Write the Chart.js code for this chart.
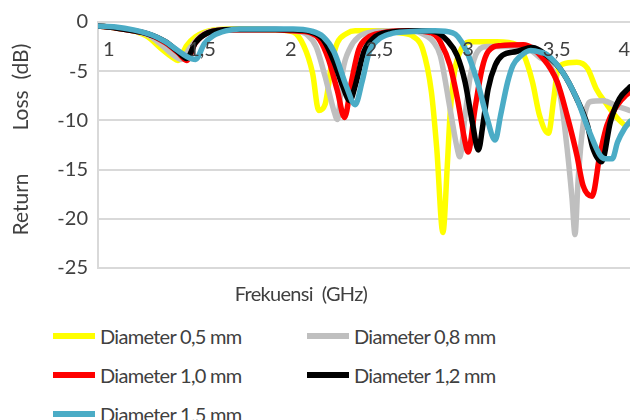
<!DOCTYPE html>
<html>
<head>
<meta charset="utf-8">
<script src="https://cdn.jsdelivr.net/npm/chart.js@4.4.1/dist/chart.umd.min.js"></script>
<style>
  body { margin: 0; background: #fff; font-family: Lato, sans-serif; color: #404040; }
  #wadah { position: relative; width: 632px; height: 420px; overflow: hidden; }
  #kotakGrafik { position: absolute; left: 0; top: 0; width: 632px; height: 290px; }
  #judulX { position: absolute; left: 0; width: 602px; top: 280px; text-align: center;
            font-size: 20px; line-height: 26px; white-space: pre; letter-spacing: -0.7px; }
  #legenda { position: absolute; left: 53px; top: 316px; display: grid;
             grid-template-columns: 254px 254px; grid-auto-rows: 39px; font-size: 20px;
             letter-spacing: -0.7px; }
  .item { display: flex; align-items: center; white-space: nowrap; }
  .garis { width: 42px; height: 6px; margin-right: 5px; }
</style>
</head>
<body>
<div id="wadah">
  <div id="kotakGrafik"><canvas id="grafik"></canvas></div>
  <div id="judulX">Frekuensi  (GHz)</div>
  <div id="legenda"></div>
</div>
<script>
// nilai: frekuensi (GHz) dan return loss (dB) per diameter
var frek05 = [1.00, 1.10, 1.20, 1.28, 1.35, 1.42, 1.45, 1.50, 1.55, 1.65, 1.80, 2.00, 2.10, 2.16, 2.21, 2.245, 2.28, 2.32, 2.35, 2.40, 2.45, 2.60, 2.70, 2.78, 2.83, 2.88, 2.91, 2.945, 2.97, 2.985, 3.01, 3.05, 3.11, 3.25, 3.36, 3.40, 3.45, 3.49, 3.54, 3.57, 3.59, 3.62, 3.70, 3.76, 3.81, 3.87, 3.93, 3.98, 4.00];
var rl05 = [-0.4, -0.6, -0.9, -1.5, -2.6, -3.6, -3.9, -2.4, -1.5, -0.8, -0.7, -0.8, -1.0, -2.4, -5.2, -9.0, -8.4, -4.0, -2.1, -1.2, -0.9, -0.9, -1.1, -1.5, -2.7, -7.1, -12.8, -21.4, -14.5, -9.5, -5.1, -2.7, -2.0, -2.0, -2.3, -3.3, -6.1, -9.5, -11.3, -7.8, -5.1, -4.3, -4.1, -4.7, -6.8, -8.4, -9.8, -10.5, -10.1];

var frek08 = [1.00, 1.10, 1.20, 1.28, 1.35, 1.42, 1.47, 1.52, 1.58, 1.70, 1.80, 2.00, 2.10, 2.18, 2.23, 2.28, 2.33, 2.35, 2.38, 2.42, 2.47, 2.55, 2.70, 2.80, 2.85, 2.89, 2.93, 2.985, 3.025, 3.04, 3.07, 3.10, 3.14, 3.20, 3.30, 3.40, 3.45, 3.49, 3.55, 3.61, 3.645, 3.673, 3.69, 3.707, 3.735, 3.775, 3.85, 3.92, 4.00];
var rl08 = [-0.4, -0.6, -0.9, -1.3, -2.2, -3.3, -3.8, -2.6, -1.4, -0.8, -0.8, -0.8, -0.9, -1.3, -2.5, -5.5, -9.0, -9.9, -5.0, -2.7, -1.5, -1.0, -0.9, -1.0, -1.4, -2.0, -3.4, -8.8, -12.8, -13.7, -9.5, -5.4, -3.0, -2.5, -2.5, -2.6, -3.0, -3.6, -4.4, -7.8, -12.8, -17.9, -21.6, -16.2, -10.5, -8.1, -8.0, -8.5, -9.0];

var frek10 = [1.00, 1.10, 1.20, 1.28, 1.38, 1.45, 1.50, 1.55, 1.62, 1.75, 2.00, 2.10, 2.20, 2.25, 2.30, 2.35, 2.39, 2.43, 2.47, 2.52, 2.60, 2.75, 2.85, 2.90, 2.93, 2.985, 3.03, 3.07, 3.087, 3.126, 3.166, 3.20, 3.27, 3.40, 3.51, 3.59, 3.645, 3.70, 3.735, 3.786, 3.83, 3.87, 3.93, 3.98, 4.00];
var rl10 = [-0.4, -0.6, -0.9, -1.2, -2.1, -3.1, -3.9, -2.1, -1.1, -0.8, -0.8, -0.9, -1.1, -1.8, -3.8, -7.0, -9.7, -6.0, -2.8, -1.6, -1.1, -0.9, -1.0, -1.3, -2.0, -4.4, -8.1, -12.2, -13.2, -8.8, -4.7, -3.0, -2.4, -2.3, -3.7, -6.1, -9.5, -13.5, -16.6, -17.7, -13.5, -10.5, -8.4, -7.4, -7.1];

var frek12 = [1.00, 1.10, 1.20, 1.28, 1.38, 1.45, 1.50, 1.55, 1.62, 1.75, 2.00, 2.10, 2.20, 2.27, 2.33, 2.38, 2.42, 2.45, 2.50, 2.55, 2.62, 2.80, 2.90, 2.97, 3.025, 3.07, 3.11, 3.145, 3.17, 3.20, 3.24, 3.28, 3.36, 3.45, 3.53, 3.62, 3.70, 3.76, 3.79, 3.84, 3.89, 3.94, 4.00];
var rl12 = [-0.4, -0.6, -0.9, -1.2, -2.0, -3.0, -3.7, -2.1, -1.1, -0.75, -0.75, -0.8, -1.0, -1.8, -4.0, -6.5, -8.0, -6.5, -3.0, -1.7, -1.1, -0.9, -1.0, -1.9, -3.4, -6.1, -10.1, -13.0, -10.5, -6.8, -4.4, -3.4, -3.0, -2.6, -3.4, -5.1, -7.8, -10.5, -12.8, -14.2, -10.1, -7.8, -6.6];

var frek15 = [1.00, 1.10, 1.20, 1.30, 1.38, 1.45, 1.50, 1.55, 1.60, 1.65, 1.72, 1.80, 2.00, 2.10, 2.20, 2.27, 2.33, 2.40, 2.45, 2.49, 2.53, 2.58, 2.65, 2.75, 2.90, 3.00, 3.03, 3.08, 3.14, 3.19, 3.24, 3.27, 3.31, 3.34, 3.38, 3.44, 3.50, 3.53, 3.62, 3.70, 3.77, 3.83, 3.86, 3.90, 3.93, 3.97, 4.00];
var rl15 = [-0.4, -0.5, -0.8, -1.3, -2.0, -2.9, -3.5, -3.8, -2.2, -1.4, -0.9, -0.7, -0.7, -0.7, -0.9, -1.5, -3.0, -6.5, -8.4, -6.0, -3.0, -1.8, -1.2, -1.0, -0.9, -1.1, -1.5, -3.0, -6.1, -9.5, -12.0, -9.5, -6.1, -4.4, -3.5, -2.9, -3.1, -3.3, -5.1, -7.8, -11.1, -13.5, -13.9, -13.9, -12.2, -10.8, -10.1];

var namaSeri = ["Diameter 0,5 mm", "Diameter 0,8 mm", "Diameter 1,0 mm", "Diameter 1,2 mm", "Diameter 1,5 mm"];
var warnaSeri = ["#FFFF00", "#BFBFBF", "#FF0000", "#000000", "#4BACC6"];
var tickY = [0, -5, -10, -15, -20, -25];
var tickX = [1, 1.5, 2, 2.5, 3, 3.5, 4];

function gabung(fs, vs) {
    return fs.map(function (f, i) { return {x: f, y: vs[i]}; });
}

var semuaFrek = [frek05, frek08, frek10, frek12, frek15];
var semuaRl = [rl05, rl08, rl10, rl12, rl15];

var datasets = namaSeri.map(function (nama, i) {
    return {
        label: nama,
        data: gabung(semuaFrek[i], semuaRl[i]),
        borderColor: warnaSeri[i],
        backgroundColor: warnaSeri[i],
        // seri terakhir (1,5 mm) digambar paling atas
        order: namaSeri.length - i
    };
});

Chart.defaults.font.family = "Lato";
Chart.defaults.font.size = 20;
Chart.defaults.color = "#404040";

var ctx = document.getElementById("grafik").getContext("2d");
var grafik = new Chart(ctx, {
    type: 'line',
    data: { datasets: datasets },
    options: {
        responsive: true,
        maintainAspectRatio: false,
        animation: false,
        layout: { padding: { top: 21, right: 2, left: 0, bottom: 0 } },
        plugins: {
            legend: { display: false },
            tooltip: { enabled: false }
        },
        elements: {
            point: { radius: 0 },
            line: {
                borderWidth: 5.5,
                borderJoinStyle: 'round',
                borderCapStyle: 'round',
                cubicInterpolationMode: 'monotone'
            }
        },
        scales: {
            x: {
                type: 'linear',
                min: tickX[0],
                max: tickX[tickX.length - 1],
                position: { y: 0 },
                grid: { display: false, drawTicks: false },
                border: { display: false },
                afterBuildTicks: function (s) {
                    s.ticks = tickX.map(function (v) { return {value: v}; });
                },
                ticks: {
                    z: 1, // label sumbu di atas garis data
                    padding: 16,
                    align: 'inner',
                    callback: function (v) {
                        var teks = String(v).replace('.', ',');
                        // label sedikit bergeser ke kanan seperti di Excel
                        if (v === 4) return teks;
                        if (v === 1) return ' ' + teks;
                        return '      ' + teks;
                    }
                },
                afterFit: function (s) {
                    s.height = 22;
                    s.paddingLeft = 0;
                    s.paddingRight = 0;
                }
            },
            y: {
                min: tickY[tickY.length - 1],
                max: tickY[0],
                afterBuildTicks: function (s) {
                    s.ticks = tickY.map(function (v) { return {value: v}; });
                },
                ticks: { padding: 10 },
                grid: { color: '#D9D9D9', lineWidth: 2, drawTicks: false },
                border: { color: '#D9D9D9', width: 2 },
                title: {
                    display: true,
                    text: '  Return        Loss  (dB)',
                    font: { size: 21 },
                    padding: { top: 9, bottom: 0 }
                },
                afterFit: function (s) {
                    s.width = 98;
                }
            }
        }
    }
});

// legenda HTML dua kolom
var legenda = document.getElementById("legenda");
grafik.data.datasets.forEach(function (ds) {
    var item = document.createElement("div");
    item.className = "item";
    var garis = document.createElement("span");
    garis.className = "garis";
    garis.style.background = ds.borderColor;
    item.appendChild(garis);
    item.appendChild(document.createTextNode(ds.label));
    legenda.appendChild(item);
});
</script>
</body>
</html>
